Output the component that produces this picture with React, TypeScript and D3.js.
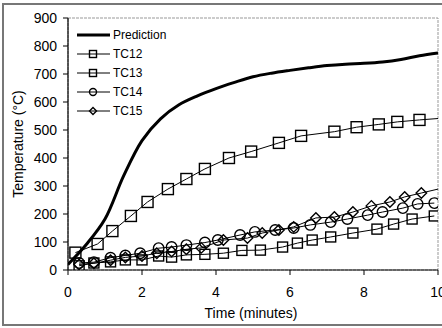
import React from "react";
import * as d3 from "d3";

// prediction curve (thick line, no markers)
const predTime = [0, 0.5, 1, 1.5, 2, 2.5, 3, 3.5, 4, 4.5, 5, 5.5, 6, 6.5, 7, 7.5, 8, 8.5, 9, 9.5, 10];
const predTemp = [20, 92, 182, 335, 462, 540, 590, 622, 648, 670, 690, 703, 713, 722, 730, 735, 738, 743, 752, 765, 775];

// thermocouple readings
const tc12Time = [0.2, 0.8, 1.2, 1.7, 2.15, 2.7, 3.2, 3.7, 4.35, 4.95, 5.7, 6.3, 7.2, 7.8, 8.4, 8.9, 9.5, 10.2];
const tc12Temp = [62, 93, 139, 193, 243, 289, 325, 361, 400, 423, 454, 479, 494, 510, 520, 529, 536, 543];

const tc13Time = [0.3, 0.7, 1.15, 1.55, 2.0, 2.45, 2.8, 3.2, 3.7, 4.2, 4.7, 5.2, 5.8, 6.2, 6.6, 7.1, 7.7, 8.35, 8.8, 9.3, 9.9];
const tc13Temp = [15, 25, 29, 36, 36, 50, 46, 54, 56, 60, 70, 71, 82, 96, 107, 118, 132, 146, 164, 182, 193];

const tc14Time = [0.3, 0.7, 1.15, 1.55, 1.95, 2.45, 2.8, 3.2, 3.7, 4.05, 4.65, 5.05, 5.6, 6.1, 6.55, 7.1, 7.55, 8.1, 8.5, 9.05, 9.45, 9.9];
const tc14Temp = [25, 28, 44, 52, 60, 78, 82, 89, 98, 107, 125, 136, 143, 150, 161, 171, 182, 196, 207, 221, 236, 239];

const tc15Time = [0.3, 0.7, 1.15, 1.55, 2.0, 2.4, 2.8, 3.2, 3.6, 4.2, 4.85, 5.25, 5.7, 6.1, 6.7, 7.2, 7.7, 8.2, 8.7, 9.1, 9.55, 10.1];
const tc15Temp = [20, 24, 35, 45, 50, 60, 66, 74, 79, 107, 114, 132, 143, 154, 186, 189, 207, 229, 243, 261, 275, 292];

const xTicks = [0, 2, 4, 6, 8, 10];
const yTicks = [0, 100, 200, 300, 400, 500, 600, 700, 800, 900];

const legendNames = ["Prediction", "TC12", "TC13", "TC14", "TC15"];
const legendKinds = ["", "square", "square", "circle", "diamond"];

const font = "'Liberation Sans', Arial, sans-serif";

type Pt = [number, number];
const zip = (a: number[], b: number[]): Pt[] => a.map((v, i) => [v, b[i]]);

function Marker({ kind, x, y, s }: { kind: string; x: number; y: number; s: number }) {
  const h = s / 2;
  if (kind === "square")
    return <rect x={x - h} y={y - h} width={s} height={s} fill="none" stroke="#000" strokeWidth={1.4} />;
  if (kind === "circle")
    return <circle cx={x} cy={y} r={h} fill="none" stroke="#000" strokeWidth={1.4} />;
  return (
    <path
      d={`M${x},${y - h}L${x + h},${y}L${x},${y + h}L${x - h},${y}Z`}
      fill="none"
      stroke="#000"
      strokeWidth={1.4}
    />
  );
}

export default function App() {
  const width = 442;
  const height = 328;
  const m = { left: 68, right: 438, top: 18, bottom: 270 };

  const x = d3.scaleLinear().domain([0, 10]).range([m.left, m.right]);
  const y = d3.scaleLinear().domain([0, 900]).range([m.bottom, m.top]);

  const line = d3.line<Pt>().x((d) => x(d[0])).y((d) => y(d[1]));
  const smooth = d3.line<Pt>().x((d) => x(d[0])).y((d) => y(d[1])).curve(d3.curveCatmullRom.alpha(0.5));

  const series = [
    { pts: zip(tc12Time, tc12Temp), kind: "square", size: 11 },
    { pts: zip(tc13Time, tc13Temp), kind: "square", size: 10 },
    { pts: zip(tc14Time, tc14Temp), kind: "circle", size: 10.5 },
    { pts: zip(tc15Time, tc15Temp), kind: "diamond", size: 10.5 },
  ];

  return (
    <svg
      width={width}
      height={height}
      style={{ position: "absolute", left: 0, top: 0, background: "#fff" }}
    >
      <defs>
        <clipPath id="plot">
          <rect x={m.left} y={m.top - 6} width={m.right - m.left} height={m.bottom - m.top + 6} />
        </clipPath>
      </defs>

      {/* outer chart border */}
      <rect x={3} y={4} width={450} height={321} fill="none" stroke="#777" strokeWidth={2} />

      {/* plot area frame */}
      <rect
        x={m.left}
        y={m.top}
        width={m.right - m.left}
        height={m.bottom - m.top}
        fill="none"
        stroke="#999"
        strokeWidth={1}
        strokeDasharray="3,1"
      />

      {/* y axis */}
      <line x1={m.left} x2={m.left} y1={m.top} y2={m.bottom} stroke="#000" strokeWidth={1.2} />
      {yTicks.map((t) => (
        <g key={t}>
          <line x1={m.left - 5} x2={m.left} y1={y(t)} y2={y(t)} stroke="#000" />
          <text
            x={m.left - 11}
            y={y(t)}
            dy="0.36em"
            textAnchor="end"
            fontFamily={font}
            fontSize={14}
          >
            {t}
          </text>
        </g>
      ))}

      {/* x axis */}
      <line x1={m.left} x2={m.right} y1={m.bottom} y2={m.bottom} stroke="#000" strokeWidth={1.2} />
      {xTicks.map((t) => (
        <g key={t}>
          <line x1={x(t)} x2={x(t)} y1={m.bottom} y2={m.bottom + 5} stroke="#000" />
          <text x={x(t)} y={m.bottom + 27} textAnchor="middle" fontFamily={font} fontSize={14}>
            {t}
          </text>
        </g>
      ))}

      <text x={251} y={318} textAnchor="middle" fontFamily={font} fontSize={14}>
        Time (minutes)
      </text>
      <text
        transform={`translate(23,${(m.top + m.bottom) / 2}) rotate(-90)`}
        textAnchor="middle"
        fontFamily={font}
        fontSize={14}
      >
        Temperature (°C)
      </text>

      <g clipPath="url(#plot)">
        {series.map((s, i) => (
          <path key={i} d={line(s.pts) || ""} fill="none" stroke="#000" strokeWidth={1} />
        ))}
        {series.map((s, i) =>
          s.pts
            .filter((p) => p[0] <= 10)
            .map((p, j) => <Marker key={`${i}-${j}`} kind={s.kind} x={x(p[0])} y={y(p[1])} s={s.size} />)
        )}
        <path d={smooth(zip(predTime, predTemp)) || ""} fill="none" stroke="#000" strokeWidth={3} />
      </g>

      {/* legend */}
      {legendNames.map((name, i) => {
        const ly = 35 + i * 19;
        return (
          <g key={name}>
            <line x1={77} x2={110} y1={ly} y2={ly} stroke="#000" strokeWidth={i === 0 ? 3 : 1} />
            {i > 0 && <Marker kind={legendKinds[i]} x={93} y={ly} s={7} />}
            <text x={113} y={ly} dy="0.36em" fontFamily={font} fontSize={12}>
              {name}
            </text>
          </g>
        );
      })}
    </svg>
  );
}
